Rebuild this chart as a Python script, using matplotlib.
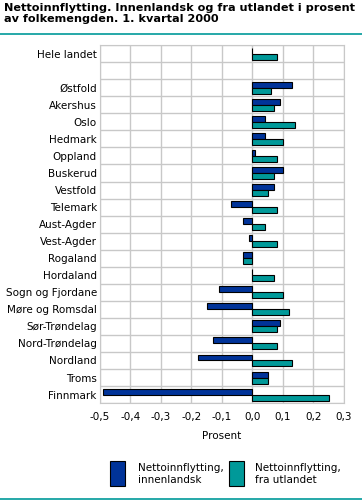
import numpy as np
import matplotlib.pyplot as plt
from matplotlib.patches import Rectangle
from matplotlib.lines import Line2D

regions = ['Hele landet', '', 'Østfold', 'Akershus', 'Oslo', 'Hedmark', 'Oppland',
           'Buskerud', 'Vestfold', 'Telemark', 'Aust-Agder', 'Vest-Agder', 'Rogaland',
           'Hordaland', 'Sogn og Fjordane', 'Møre og Romsdal', 'Sør-Trøndelag',
           'Nord-Trøndelag', 'Nordland', 'Troms', 'Finnmark']
innenlandsk = [0.0, np.nan, 0.13, 0.09, 0.04, 0.04, 0.01, 0.10, 0.07, -0.07, -0.03,
               -0.01, -0.03, 0.0, -0.11, -0.15, 0.09, -0.13, -0.18, 0.05, -0.49]
utlandet = [0.08, np.nan, 0.06, 0.07, 0.14, 0.10, 0.08, 0.07, 0.05, 0.08, 0.04,
            0.08, -0.03, 0.07, 0.10, 0.12, 0.08, 0.08, 0.13, 0.05, 0.25]
xticks = [-0.5, -0.4, -0.3, -0.2, -0.1, 0.0, 0.1, 0.2, 0.3]

blue = '#003399'
teal = '#009999'

plt.rcParams['font.family'] = 'DejaVu Sans'
fig = plt.figure(figsize=(3.62, 5.02), dpi=100)
ax = fig.add_axes([0.276, 0.195, 0.674, 0.713])

y = np.arange(len(regions))
h = 0.35
ax.barh(y - h / 2, innenlandsk, height=h, color=blue, edgecolor='black', linewidth=0.8, zorder=3)
ax.barh(y + h / 2, utlandet, height=h, color=teal, edgecolor='black', linewidth=0.8, zorder=3)

ax.set_ylim(len(regions) - 0.5, -0.5)
ax.set_xlim(-0.5, 0.3)
ax.set_yticks(np.arange(len(regions) + 1) - 0.5)
ax.set_yticklabels([])
for i, name in enumerate(regions):
    ax.text(-0.51, i, name, ha='right', va='center', fontsize=7.5)
ax.set_xticks(xticks)
ax.set_xticklabels([f'{v:.1f}'.replace('.', ',') for v in xticks], fontsize=7.5)
ax.tick_params(length=0, pad=6)
ax.grid(True, color='#c8c8c8', linewidth=1, zorder=0)
for s in ax.spines.values():
    s.set_color('#c8c8c8')
ax.set_xlabel('Prosent', fontsize=7.5, labelpad=6)

fig.text(0.011, 0.994, 'Nettoinnflytting. Innenlandsk og fra utlandet i prosent\nav folkemengden. 1. kvartal 2000',
         ha='left', va='top', fontsize=8.1, fontweight='bold', linespacing=1.15)
fig.add_artist(Line2D([0.0, 1.0], [0.931, 0.931], color=teal, linewidth=1.2))
fig.add_artist(Line2D([0.0, 1.0], [0.004, 0.004], color=teal, linewidth=1.2))

fig.add_artist(Rectangle((0.304, 0.030), 0.042, 0.050, facecolor=blue, edgecolor='black', linewidth=0.8))
fig.text(0.381, 0.056, 'Nettoinnflytting,\ninnenlandsk', ha='left', va='center', fontsize=7.5, linespacing=1.3)
fig.add_artist(Rectangle((0.633, 0.030), 0.042, 0.050, facecolor=teal, edgecolor='black', linewidth=0.8))
fig.text(0.705, 0.056, 'Nettoinnflytting,\nfra utlandet', ha='left', va='center', fontsize=7.5, linespacing=1.3)

fig.savefig('out.png', dpi=100)
